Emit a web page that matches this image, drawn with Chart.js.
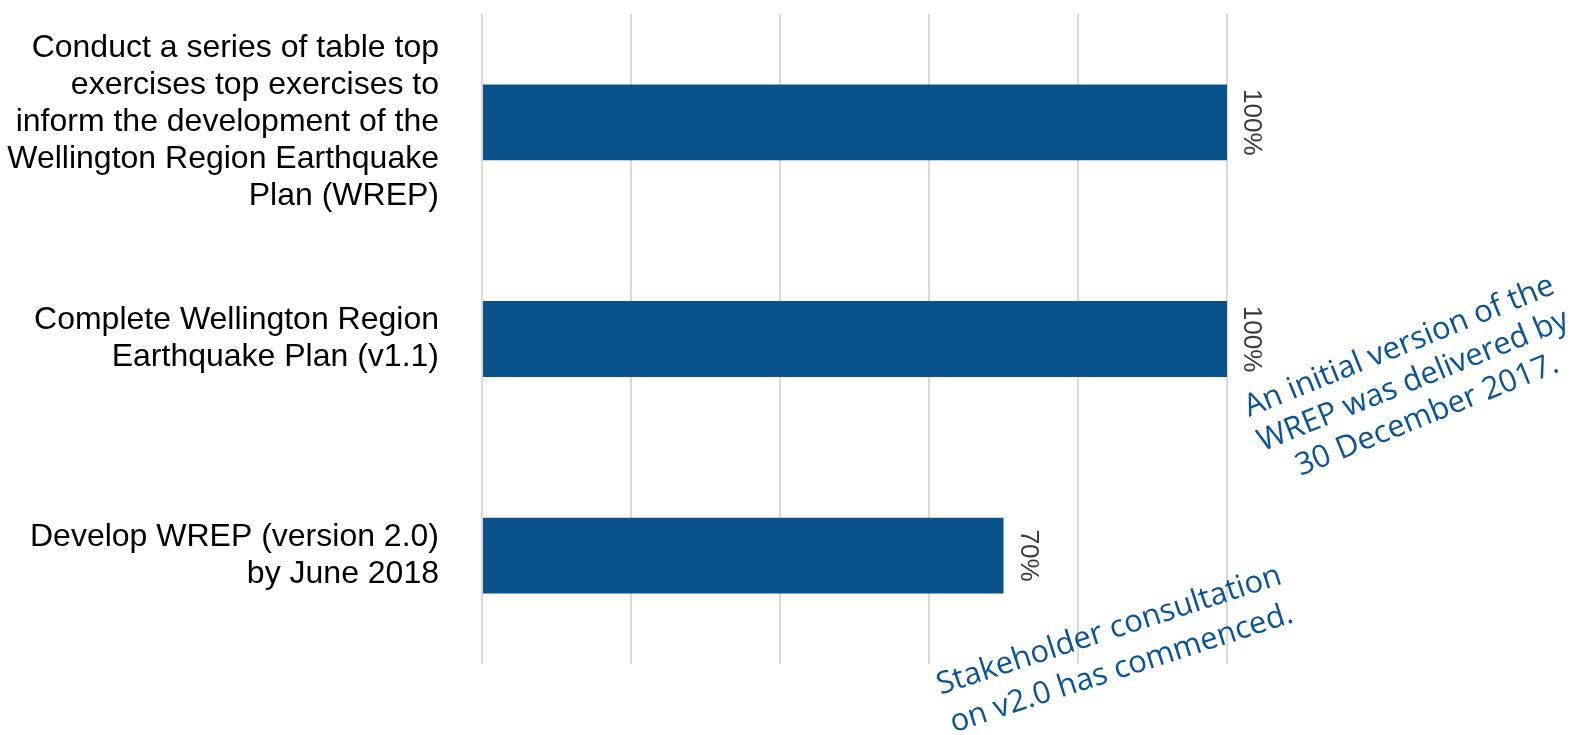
<!DOCTYPE html>
<html>
<head>
<meta charset="utf-8">
<script src="https://cdn.jsdelivr.net/npm/chart.js@4/dist/chart.umd.min.js"></script>
<style>
  html, body { margin: 0; padding: 0; background: #fff; }
  #wrap { width: 1590px; height: 735px; position: relative; }
</style>
</head>
<body>
<div id="wrap"><canvas id="progressChart"></canvas></div>
<script>
// Milestones (y categories), one array of lines per label
const categories = [
    ['Conduct a series of table top', 'exercises top exercises to', 'inform the development of the', 'Wellington Region Earthquake', 'Plan (WREP)'],
    ['Complete Wellington Region', 'Earthquake Plan (v1.1)'],
    ['Develop WREP (version 2.0)', 'by June 2018']
];

// Percent complete
const progress = [100, 100, 70];

// Value axis ticks (gridlines only, labels hidden)
const xTicks = [0, 20, 40, 60, 80, 100];

// Handwritten notes
const noteDelivered = ['An initial version of the', 'WREP was delivered by', '30 December 2017.'];
const noteConsult = ['Stakeholder consultation', 'on v2.0 has commenced.'];

const BAR_BLUE = '#0a528b';
const NOTE_BLUE = '#0b5394';
const NOTE_FONT = '"Comic Sans MS", "Chalkboard SE", "Open Sans", sans-serif';

// rotated "100%" labels just past the bar ends
const valueLabels = {
    id: 'valueLabels',
    afterDatasetsDraw(chart) {
        const ctx = chart.ctx;
        const meta = chart.getDatasetMeta(0);
        ctx.save();
        ctx.font = '26px "Liberation Sans", Arial, sans-serif';
        ctx.fillStyle = '#3a3a3a';
        ctx.textAlign = 'center';
        ctx.textBaseline = 'alphabetic';
        meta.data.forEach((bar, i) => {
            ctx.save();
            ctx.translate(bar.x + 17, bar.y);
            ctx.rotate(Math.PI / 2);
            ctx.fillText(progress[i] + '%', 0, 0);
            ctx.restore();
        });
        ctx.restore();
    }
};

// the two tilted comments
const notes = {
    id: 'notes',
    afterDraw(chart) {
        const ctx = chart.ctx;
        const x = chart.scales.x;
        const y = chart.scales.y;
        const items = [
            { lines: noteDelivered, cx: x.getPixelForValue(125), cy: y.getPixelForValue(1) + 42, angle: -22, lh: 37 },
            { lines: noteConsult, cx: x.getPixelForValue(85), cy: y.getPixelForValue(2) + 94, angle: -18, lh: 40 }
        ];
        ctx.save();
        ctx.font = '31px ' + NOTE_FONT;
        ctx.fillStyle = NOTE_BLUE;
        ctx.textAlign = 'center';
        ctx.textBaseline = 'middle';
        items.forEach(n => {
            ctx.save();
            ctx.translate(n.cx, n.cy);
            ctx.rotate(n.angle * Math.PI / 180);
            const start = -(n.lines.length - 1) * n.lh / 2;
            n.lines.forEach((t, k) => ctx.fillText(t, 0, start + k * n.lh));
            ctx.restore();
        });
        ctx.restore();
    }
};

document.addEventListener('DOMContentLoaded', () => {
    const ctx = document.getElementById('progressChart').getContext('2d');
    new Chart(ctx, {
        type: 'bar',
        data: {
            labels: categories,
            datasets: [{
                data: progress,
                backgroundColor: BAR_BLUE,
                borderWidth: 0,
                barPercentage: 0.35,
                categoryPercentage: 1
            }]
        },
        options: {
            indexAxis: 'y',
            responsive: true,
            maintainAspectRatio: false,
            animation: false,
            layout: { padding: { left: 0, right: 363, top: 14, bottom: 71 } },
            plugins: {
                legend: { display: false },
                tooltip: { enabled: false }
            },
            scales: {
                x: {
                    min: 0,
                    max: 100,
                    afterBuildTicks: s => { s.ticks = xTicks.map(v => ({ value: v })); },
                    ticks: { display: false },
                    grid: { color: '#d9d9d9', lineWidth: 2, drawTicks: false },
                    border: { display: false },
                    afterFit: s => { s.height = 0; s.paddingLeft = 0; s.paddingRight = 0; }
                },
                y: {
                    ticks: {
                        color: '#000',
                        padding: 43,
                        font: { family: '"Liberation Sans", Arial, sans-serif', size: 32, lineHeight: '37px' }
                    },
                    grid: { display: false, drawTicks: false },
                    border: { display: false },
                    afterFit: s => { s.width = 482; s.paddingTop = 0; s.paddingBottom = 0; }
                }
            }
        },
        plugins: [valueLabels, notes]
    });
});
</script>
</body>
</html>
